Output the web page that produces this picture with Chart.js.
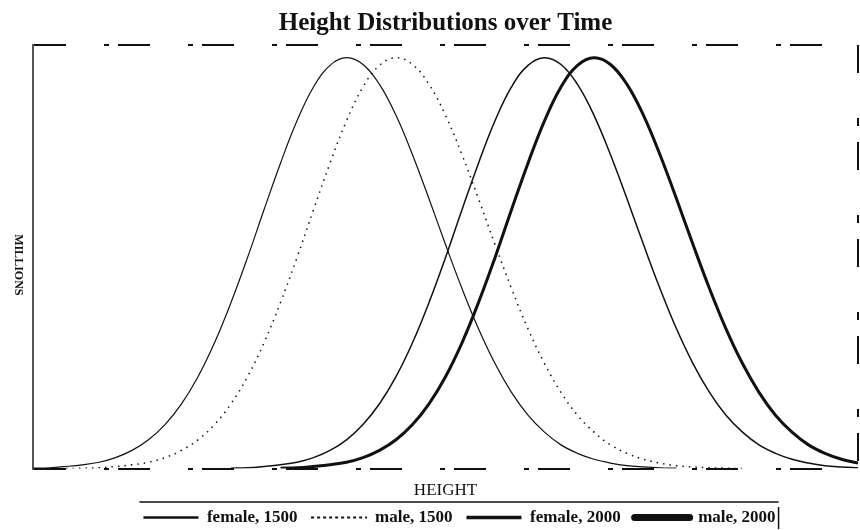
<!DOCTYPE html>
<html>
<head>
<meta charset="utf-8">
<script src="https://cdn.jsdelivr.net/npm/chart.js@4"></script>
<style>
  body { margin: 0; background: #fff; }
  #wrap { width: 860px; height: 530px; }
</style>
</head>
<body>
<div id="wrap"><canvas id="chart" width="860" height="530"></canvas></div>
<script>
// x positions (height, arbitrary units) shared by all curves
var heights = [0,2,4,6,8,10,12,14,16,18,20,22,24,26,28,30,32,34,36,38,40,42,44,46,48,50,
  52,54,56,58,60,62,64,66,68,70,72,74,76,78,80,82,84,86,88,90,92,94,96,98,100];

// curve heights (share of the frame height)
var female1500 = [0.001,0.002,0.005,0.009,0.015,0.026,0.043,0.068,0.104,0.153,0.217,0.297,0.392,
  0.498,0.611,0.721,0.821,0.901,0.952,0.970,0.954,0.907,0.834,0.741,0.637,0.529,0.425,0.330,
  0.248,0.180,0.126,0.086,0.056,0.036,0.022,0.013,0.007,0.004,0.002,0.001,
  null,null,null,null,null,null,null,null,null,null,null];
var male1500 = [null,null,0.000,0.001,0.002,0.005,0.009,0.015,0.026,0.043,0.068,0.104,0.153,
  0.217,0.297,0.392,0.498,0.611,0.721,0.821,0.901,0.952,0.970,0.954,0.907,0.834,0.741,0.637,
  0.529,0.425,0.330,0.248,0.180,0.126,0.086,0.056,0.036,0.022,0.013,0.007,0.004,0.002,0.001,0.000,
  null,null,null,null,null,null,null];
var female2000 = [null,null,null,null,null,null,null,null,null,null,null,null,
  0.001,0.002,0.005,0.009,0.015,0.026,0.043,0.068,0.104,0.153,0.217,0.297,0.392,0.498,0.611,
  0.721,0.821,0.901,0.952,0.970,0.954,0.907,0.834,0.741,0.637,0.529,0.425,0.330,0.248,0.180,
  0.126,0.086,0.056,0.036,0.022,0.013,0.007,0.004,0.002];
var male2000 = [null,null,null,null,null,null,null,null,null,null,null,null,null,null,null,
  0.001,0.002,0.005,0.009,0.015,0.026,0.043,0.068,0.104,0.153,0.217,0.297,0.392,0.498,0.611,
  0.721,0.821,0.901,0.952,0.970,0.954,0.907,0.834,0.741,0.637,0.529,0.425,0.330,0.248,0.180,
  0.126,0.086,0.056,0.036,0.022,0.013];

var seriesNames = ['female, 1500', 'male, 1500', 'female, 2000', 'male, 2000'];

var ink = '#111';
var serif = "'Liberation Serif', 'DejaVu Serif', serif";

function pts(ys) {
  return heights.map(function (h, i) { return { x: h, y: ys[i] }; });
}

// legend samples are drawn heavier than the curves
var legendWidths = [2.5, 1.5, 3.5, 7];

// point-style legend ignores dashes, so the dotted sample is a little image
var dotted = document.createElement('canvas');
dotted.width = 56; dotted.height = 4;
(function () {
  var g = dotted.getContext('2d');
  g.strokeStyle = ink;
  g.lineWidth = 2;
  g.setLineDash([3, 3]);
  g.beginPath();
  g.moveTo(0, 2);
  g.lineTo(56, 2);
  g.stroke();
})();

// y title reads top to bottom, and a rule sits over the legend
var extras = {
  id: 'extras',
  afterUpdate: function (chart) {
    // legend in the picture sits a bit right of centre
    chart.legend.left += 14;
    chart.legend.right += 14;
  },
  afterDraw: function (chart) {
    var ctx = chart.ctx, a = chart.chartArea;
    ctx.save();
    ctx.translate(18, (a.top + a.bottom) / 2 + 8);
    ctx.rotate(Math.PI / 2);
    ctx.font = "bold 12px " + serif;
    ctx.fillStyle = ink;
    ctx.textAlign = 'center';
    ctx.textBaseline = 'middle';
    ctx.fillText('MILLIONS', 0, 0);
    ctx.restore();

    var lg = chart.legend;
    if (!lg || !lg.lineWidths) return;
    var pad = lg.options.labels.padding;
    var rowW = lg.lineWidths[0];
    var l = (lg.left + pad + lg.right - rowW) / 2;
    var r = l + rowW - pad;
    var t = lg.top + pad;
    var b = t + lg.options.labels.font.size;
    ctx.save();
    ctx.strokeStyle = ink;
    ctx.lineWidth = 1.5;
    ctx.beginPath();
    ctx.moveTo(l - 4, t - 7);
    ctx.lineTo(r + 3, t - 7);
    ctx.moveTo(r + 3, t - 2);
    ctx.lineTo(r + 3, b + 3);
    ctx.stroke();
    ctx.restore();
  }
};

var chart = new Chart(document.getElementById('chart').getContext('2d'), {
  type: 'line',
  data: {
    datasets: [{
      label: seriesNames[0],
      data: pts(female1500),
      borderColor: ink,
      borderWidth: 1.2
    }, {
      label: seriesNames[1],
      data: pts(male1500),
      borderColor: ink,
      borderWidth: 1.5,
      borderDash: [1.5, 5]
    }, {
      label: seriesNames[2],
      data: pts(female2000),
      borderColor: ink,
      borderWidth: 1.5
    }, {
      label: seriesNames[3],
      data: pts(male2000),
      borderColor: ink,
      borderWidth: 3
    }]
  },
  options: {
    responsive: false,
    animation: false,
    elements: {
      point: { radius: 0 },
      line: { tension: 0.4, fill: false }
    },
    layout: { padding: { top: 2, left: 33, right: 2, bottom: -6 } },
    scales: {
      x: {
        type: 'linear', position: 'bottom', min: 0, max: 100,
        // only the right edge gets a (dashed) grid line
        afterBuildTicks: function (s) { s.ticks = [{ value: 100 }]; },
        grid: { display: true, drawTicks: false, color: ink, lineWidth: 2 },
        ticks: { display: false },
        border: { display: false, dash: [28, 45, 8, 16] },
        title: {
          display: true, text: 'HEIGHT', color: ink,
          font: { family: serif, size: 17 },
          padding: { top: 12, bottom: -6 }
        }
      },
      y: {
        type: 'linear', position: 'left', min: 0, max: 1,
        // dashed lines along the bottom and top of the frame
        afterBuildTicks: function (s) { s.ticks = [{ value: 0 }, { value: 1 }]; },
        grid: { display: true, drawTicks: false, color: ink, lineWidth: 2 },
        ticks: { display: false },
        border: { display: true, color: '#555', width: 2, dash: [32, 38, 5, 9] }
      }
    },
    plugins: {
      title: {
        display: true,
        text: 'Height Distributions over Time',
        color: ink,
        fullSize: false,
        font: { family: serif, size: 25, weight: 'bold' },
        padding: { top: 7, bottom: 6 }
      },
      legend: {
        position: 'bottom',
        fullSize: false,
        labels: {
          color: ink,
          font: { family: serif, size: 17, weight: 'bold' },
          usePointStyle: true,
          pointStyle: 'line',
          pointStyleWidth: 55,
          padding: 14,
          generateLabels: function (c) {
            var items = Chart.defaults.plugins.legend.labels.generateLabels(c);
            items.forEach(function (it, i) {
              it.lineWidth = legendWidths[i];
              it.lineCap = i === 3 ? 'round' : 'butt';
              if (i === 1) it.pointStyle = dotted;
            });
            return items;
          }
        }
      },
      tooltip: { enabled: false }
    }
  },
  plugins: [extras]
});
</script>
</body>
</html>
